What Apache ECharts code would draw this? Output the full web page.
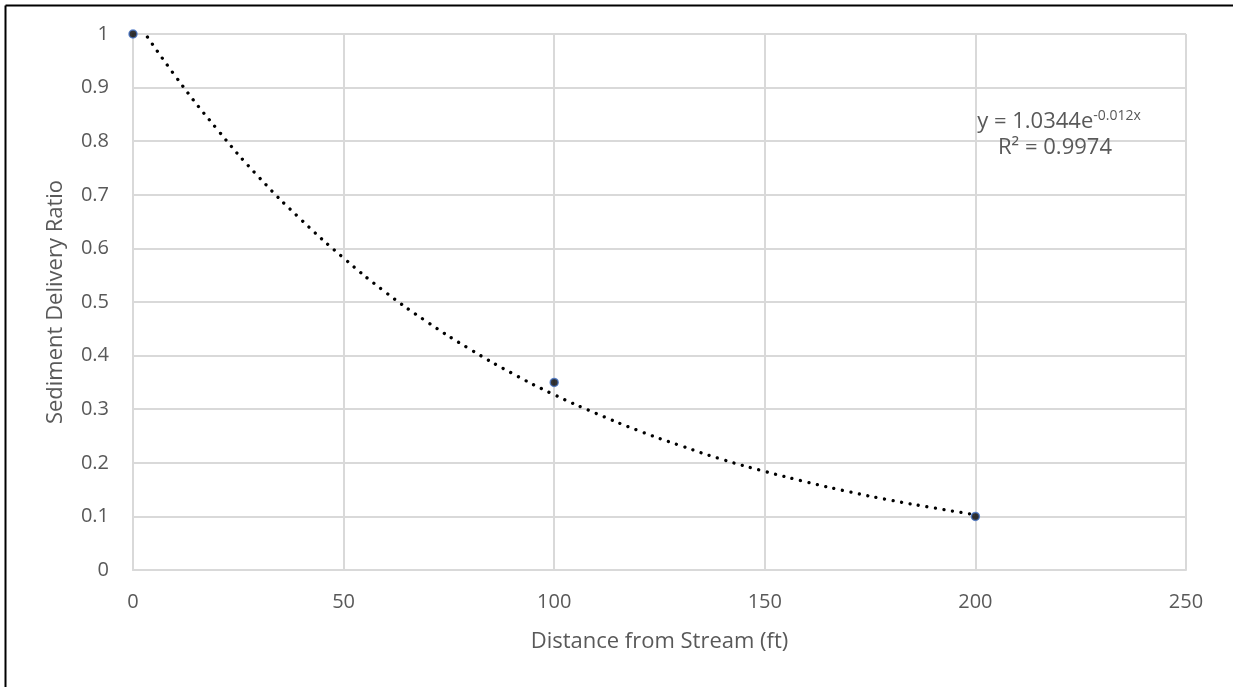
<!DOCTYPE html>
<html>
<head>
<meta charset="utf-8">
<script src="https://cdn.jsdelivr.net/npm/echarts@6/dist/echarts.min.js"></script>
<style>
  html, body { margin: 0; padding: 0; background: #fff; }
  #chart { width: 1233px; height: 687px; }
</style>
</head>
<body>
<div id="chart"></div>
<script>
// Observed points
const distance = [0, 100, 200];
const deliveryRatio = [1, 0.35, 0.1];

// Exponential trendline, every 10 ft
const trendX = [0, 10, 20, 30, 40, 50, 60, 70, 80, 90, 100, 110, 120, 130, 140, 150, 160, 170, 180, 190, 200];
const trendY = [1.034, 0.922, 0.822, 0.732, 0.653, 0.582, 0.518, 0.462, 0.412, 0.367, 0.327,
  0.292, 0.26, 0.232, 0.206, 0.184, 0.164, 0.146, 0.13, 0.116, 0.103];

const equationMain = "y = 1.0344e";
const equationExp = "-0.012x";
const rSquared = "R² = 0.9974";

const xAxisName = "Distance from Stream (ft)";
const yAxisName = "Sediment Delivery Ratio";

const textColor = "#595959";
const gridColor = "#d9d9d9";
const font = "Open Sans";

const chart = echarts.init(document.getElementById("chart"), null, { renderer: "canvas" });

chart.setOption({
  animation: false,
  textStyle: { fontFamily: font },
  grid: { left: 133, right: 47, top: 34, bottom: 117 },
  xAxis: {
    type: "value",
    min: 0,
    max: 250,
    interval: 50,
    name: xAxisName,
    nameLocation: "middle",
    nameGap: 61,
    nameTextStyle: { color: textColor, fontSize: 22, fontFamily: font },
    axisLine: { lineStyle: { color: gridColor, width: 2 } },
    axisTick: { show: false },
    axisLabel: { color: textColor, fontSize: 20, margin: 22, fontFamily: font },
    splitLine: { show: true, lineStyle: { color: gridColor, width: 2 } },
  },
  yAxis: {
    type: "value",
    min: 0,
    max: 1,
    interval: 0.1,
    name: yAxisName,
    nameLocation: "middle",
    nameGap: 66,
    nameTextStyle: { color: textColor, fontSize: 22, fontFamily: font },
    axisLine: { show: true, lineStyle: { color: gridColor, width: 2 } },
    axisTick: { show: false },
    axisLabel: { color: textColor, fontSize: 20, margin: 24, fontFamily: font },
    splitLine: { show: true, lineStyle: { color: gridColor, width: 2 } },
  },
  series: [
    {
      type: "line",
      data: trendX.map((x, i) => [x, trendY[i]]),
      smooth: true,
      symbol: "none",
      clip: true,
      z: 2,
      lineStyle: { color: "#000", width: 3.3, type: [0.01, 8.6], cap: "round" },
    },
    {
      type: "scatter",
      data: distance.map((x, i) => [x, deliveryRatio[i]]),
      symbol: "circle",
      symbolSize: 8,
      z: 3,
      itemStyle: { color: "#000", borderColor: "#4472C4", borderWidth: 1.5 },
    },
  ],
  graphic: [
    {
      type: "line",
      shape: { x1: 5.5, y1: 5.5, x2: 1233, y2: 5.5 },
      style: { stroke: "#000", lineWidth: 2 },
    },
    {
      type: "line",
      shape: { x1: 5.5, y1: 5.5, x2: 5.5, y2: 687 },
      style: { stroke: "#000", lineWidth: 2 },
    },
    {
      type: "text",
      x: 1059,
      y: 122,
      z: 10,
      style: {
        text: `{a|${equationMain}}{s|${equationExp}}`,
        align: "center",
        verticalAlign: "middle",
        rich: {
          a: { fontSize: 22, fontFamily: font, fill: textColor, lineHeight: 26 },
          s: { fontSize: 14, fontFamily: font, fill: textColor, verticalAlign: "top", lineHeight: 26 },
        },
      },
    },
    {
      type: "text",
      x: 1055,
      y: 148,
      z: 10,
      style: {
        text: rSquared,
        align: "center",
        verticalAlign: "middle",
        fontSize: 22,
        fontFamily: font,
        fill: textColor,
      },
    },
  ],
});
</script>
</body>
</html>
